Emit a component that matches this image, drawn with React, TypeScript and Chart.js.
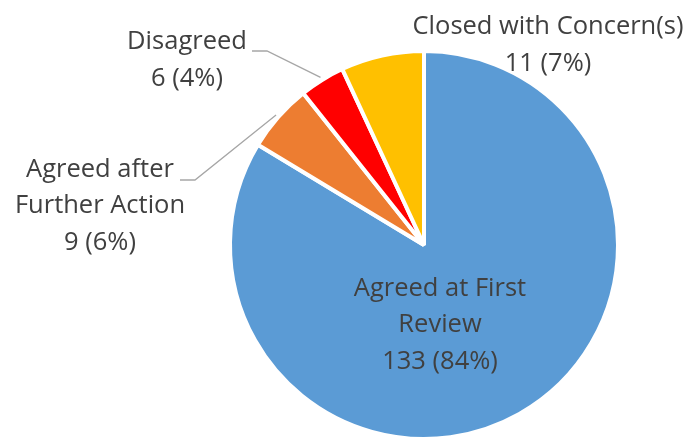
import React, { useEffect, useRef } from "react";
import { Chart, registerables } from "chart.js";

Chart.register(...registerables);

const categories = ["Agreed at First Review", "Agreed after Further Action", "Disagreed", "Closed with Concern(s)"];
const values = [133, 9, 6, 11];
const colors = ["#5B9BD5", "#ED7D31", "#FF0000", "#FFC000"];
const nameLines = [["Agreed at First", "Review"], ["Agreed after", "Further Action"], ["Disagreed"], ["Closed with Concern(s)"]];

// label block placement relative to pie centre (px)
const labelLayout = [
  { dx: 16, dy: 80, leader: null },
  { dx: -324, dy: -39, leader: { ex: -229, ey: -65, hx: -244 } },
  { dx: -237, dy: -185, leader: { ex: -157, ey: -194, hx: -172 } },
  { dx: 124, dy: -200, leader: null },
];

const FONT = "25.5px 'Open Sans', Lato, sans-serif";
const LINE_H = 36.5;

const labelPlugin = {
  id: "pieLabels",
  afterDatasetsDraw(chart: any) {
    const ctx = chart.ctx;
    const meta = chart.getDatasetMeta(0);
    const total = values.reduce((a, b) => a + b, 0);
    ctx.save();
    meta.data.forEach((arc: any, i: number) => {
      const cx = arc.x;
      const cy = arc.y;
      const lay = labelLayout[i];
      if (lay.leader) {
        const mid = (arc.startAngle + arc.endAngle) / 2;
        const r = arc.outerRadius + 3;
        const px = cx + Math.cos(mid) * r;
        const py = cy + Math.sin(mid) * r;
        ctx.beginPath();
        ctx.strokeStyle = "#A6A6A6";
        ctx.lineWidth = 1.3;
        ctx.moveTo(px, py);
        ctx.lineTo(cx + lay.leader.ex, cy + lay.leader.ey);
        ctx.lineTo(cx + lay.leader.hx, cy + lay.leader.ey);
        ctx.stroke();
      }
      const pct = Math.round((values[i] / total) * 100);
      const lines = [...nameLines[i], `${values[i]} (${pct}%)`];
      ctx.font = FONT;
      ctx.fillStyle = "#404040";
      ctx.textAlign = "center";
      ctx.textBaseline = "middle";
      const bx = cx + lay.dx;
      const by = cy + lay.dy;
      const top = by - ((lines.length - 1) * LINE_H) / 2;
      lines.forEach((t, k) => ctx.fillText(t, bx, top + k * LINE_H));
    });
    ctx.restore();
  },
};

export default function App() {
  const ref = useRef<HTMLCanvasElement | null>(null);
  useEffect(() => {
    if (!ref.current) return;
    const chart = new Chart(ref.current, {
      type: "pie",
      data: {
        labels: categories,
        datasets: [
          {
            data: values,
            backgroundColor: colors,
            borderColor: "#FFFFFF",
            borderWidth: 4,
          },
        ],
      },
      options: {
        animation: false,
        responsive: false,
        maintainAspectRatio: false,
        layout: { padding: { top: 49, bottom: 4, left: 228, right: 73 } },
        plugins: {
          legend: { display: false },
          tooltip: { enabled: false },
        },
      },
      plugins: [labelPlugin],
    });
    return () => chart.destroy();
  }, []);
  return (
    <div style={{ position: "fixed", left: 0, top: 0, width: 693, height: 438, overflow: "hidden", background: "#fff" }}>
      <canvas ref={ref} width={693} height={445} style={{ width: 693, height: 445, display: "block" }} />
    </div>
  );
}
